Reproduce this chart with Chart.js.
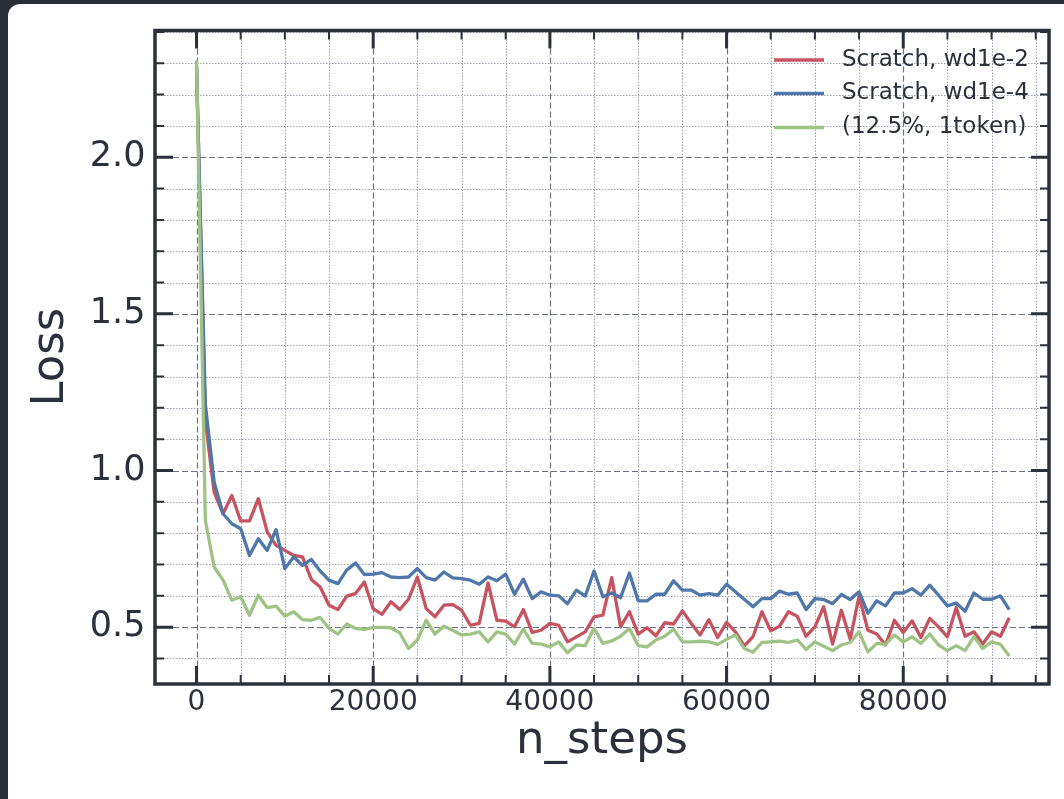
<!DOCTYPE html>
<html><head><meta charset="utf-8">
<script src="https://cdn.jsdelivr.net/npm/chart.js@4/dist/chart.umd.min.js"></script>
<style>
html,body{margin:0;padding:0;background:#282d38;width:1064px;height:799px;overflow:hidden}
#card{position:absolute;left:8px;top:4px;width:1056px;height:800px;background:#ffffff;border-top-left-radius:12px}
#c{position:absolute;left:0;top:0}
</style></head><body>
<div id="card"></div>
<canvas id="c" width="1064" height="799"></canvas>
<script>
const steps=[0,1000,2000,3000,4000,5000,6000,7000,8000,9000,10000,11000,12000,13000,14000,15000,16000,17000,18000,19000,20000,21000,22000,23000,24000,25000,26000,27000,28000,29000,30000,31000,32000,33000,34000,35000,36000,37000,38000,39000,40000,41000,42000,43000,44000,45000,46000,47000,48000,49000,50000,51000,52000,53000,54000,55000,56000,57000,58000,59000,60000,61000,62000,63000,64000,65000,66000,67000,68000,69000,70000,71000,72000,73000,74000,75000,76000,77000,78000,79000,80000,81000,82000,83000,84000,85000,86000,87000,88000,89000,90000,91000,92000];
const lossScratchWd1e2=[2.29,1.16,0.93,0.862,0.92,0.839,0.839,0.91,0.804,0.761,0.745,0.729,0.724,0.652,0.628,0.570,0.556,0.599,0.607,0.644,0.559,0.541,0.581,0.556,0.589,0.660,0.559,0.533,0.570,0.572,0.554,0.506,0.512,0.641,0.522,0.519,0.501,0.556,0.483,0.490,0.512,0.506,0.453,0.469,0.485,0.533,0.538,0.658,0.501,0.549,0.478,0.498,0.472,0.514,0.510,0.552,0.512,0.475,0.524,0.467,0.515,0.485,0.440,0.470,0.549,0.488,0.503,0.549,0.535,0.471,0.501,0.565,0.446,0.554,0.461,0.599,0.490,0.478,0.443,0.522,0.483,0.520,0.467,0.528,0.501,0.469,0.563,0.471,0.485,0.446,0.485,0.471,0.530];
const lossScratchWd1e4=[2.28,1.21,0.963,0.862,0.83,0.814,0.729,0.782,0.745,0.811,0.687,0.724,0.697,0.716,0.679,0.650,0.639,0.682,0.705,0.668,0.669,0.674,0.660,0.658,0.660,0.687,0.658,0.650,0.676,0.657,0.655,0.650,0.637,0.660,0.648,0.669,0.605,0.653,0.591,0.613,0.602,0.600,0.575,0.618,0.599,0.679,0.597,0.609,0.594,0.673,0.584,0.584,0.605,0.605,0.648,0.618,0.618,0.602,0.607,0.602,0.637,0.613,0.589,0.565,0.591,0.591,0.615,0.605,0.609,0.556,0.591,0.588,0.575,0.604,0.588,0.613,0.544,0.584,0.568,0.609,0.609,0.623,0.602,0.634,0.602,0.568,0.577,0.551,0.609,0.589,0.589,0.600,0.556];
const lossPartial1token=[2.31,0.84,0.692,0.65,0.586,0.597,0.538,0.602,0.562,0.567,0.535,0.549,0.524,0.522,0.531,0.496,0.478,0.510,0.496,0.493,0.499,0.499,0.498,0.482,0.432,0.459,0.522,0.478,0.503,0.490,0.475,0.478,0.485,0.453,0.485,0.478,0.446,0.494,0.448,0.446,0.437,0.453,0.418,0.443,0.441,0.496,0.448,0.456,0.471,0.496,0.441,0.437,0.459,0.471,0.493,0.453,0.453,0.455,0.453,0.445,0.461,0.475,0.432,0.420,0.451,0.453,0.455,0.451,0.459,0.429,0.453,0.439,0.425,0.443,0.451,0.485,0.421,0.448,0.445,0.475,0.453,0.469,0.448,0.478,0.443,0.425,0.441,0.425,0.469,0.432,0.453,0.445,0.408];
const seriesNames=['Scratch, wd1e-2','Scratch, wd1e-4','(12.5%, 1token)'];
const xTickValues=[0,20000,40000,60000,80000];
const xTickLabels=['0','20000','40000','60000','80000'];
const yTickValues=[0.5,1.0,1.5,2.0];
const yTickLabels=['0.5','1.0','1.5','2.0'];

const INK='#2b303b';
const colors=['#c65460','#4f77aa','#9fc385'];
const FONT='"DejaVu Sans", sans-serif';

function toPts(ys){return steps.map((s,i)=>({x:s,y:ys[i]}));}

const decor={
  id:'decor',
  beforeDatasetsDraw(chart){
    const {ctx,chartArea:a,scales:{x,y}}=chart;
    ctx.save();
    ctx.lineWidth=1; ctx.strokeStyle='#a0a4b0'; ctx.setLineDash([1.5,1.5]);
    for(let v=0;v<=x.max;v+=5000){ if(v%20000===0) continue; const px=Math.round(x.getPixelForValue(v))+0.5; ctx.beginPath(); ctx.moveTo(px,a.top); ctx.lineTo(px,a.bottom); ctx.stroke(); }
    for(let k=4;k/10<=y.max;k++){ if(k%5===0) continue; const py=Math.round(y.getPixelForValue(k/10))+0.5; ctx.beginPath(); ctx.moveTo(a.left,py); ctx.lineTo(a.right,py); ctx.stroke(); }
    ctx.lineWidth=1.2; ctx.strokeStyle='#6d7385'; ctx.setLineDash([6,3]);
    xTickValues.forEach(v=>{const px=Math.round(x.getPixelForValue(v))+0.5; ctx.beginPath(); ctx.moveTo(px,a.top); ctx.lineTo(px,a.bottom); ctx.stroke();});
    yTickValues.forEach(v=>{const py=Math.round(y.getPixelForValue(v))+0.5; ctx.beginPath(); ctx.moveTo(a.left,py); ctx.lineTo(a.right,py); ctx.stroke();});
    ctx.restore();
  },
  afterDatasetsDraw(chart){
    const {ctx,chartArea:a,scales:{x,y}}=chart;
    ctx.save();
    ctx.setLineDash([]); ctx.strokeStyle=INK;
    const MJ=18, MN=9;
    ctx.lineWidth=2;
    for(let v=0;v<=x.max;v+=5000){ if(v%20000===0) continue; const px=x.getPixelForValue(v);
      ctx.beginPath(); ctx.moveTo(px,a.bottom); ctx.lineTo(px,a.bottom-MN); ctx.moveTo(px,a.top); ctx.lineTo(px,a.top+MN); ctx.stroke(); }
    for(let k=4;k/10<=y.max;k++){ if(k%5===0) continue; const py=y.getPixelForValue(k/10);
      ctx.beginPath(); ctx.moveTo(a.left,py); ctx.lineTo(a.left+MN,py); ctx.moveTo(a.right,py); ctx.lineTo(a.right-MN,py); ctx.stroke(); }
    ctx.lineWidth=3;
    xTickValues.forEach(v=>{const px=x.getPixelForValue(v);
      ctx.beginPath(); ctx.moveTo(px,a.bottom); ctx.lineTo(px,a.bottom-MJ); ctx.moveTo(px,a.top); ctx.lineTo(px,a.top+MJ); ctx.stroke();});
    yTickValues.forEach(v=>{const py=y.getPixelForValue(v);
      ctx.beginPath(); ctx.moveTo(a.left,py); ctx.lineTo(a.left+MJ,py); ctx.moveTo(a.right,py); ctx.lineTo(a.right-MJ,py); ctx.stroke();});
    ctx.lineWidth=3.5;
    ctx.strokeRect(a.left,a.top,a.right-a.left,a.bottom-a.top);
    const rows=[60,93.5,127.5];
    ctx.font='23px '+FONT; ctx.textBaseline='middle'; ctx.textAlign='left';
    chart.data.datasets.forEach((ds,i)=>{
      ctx.strokeStyle=ds.borderColor; ctx.lineWidth=3.3; ctx.lineCap='butt';
      ctx.beginPath(); ctx.moveTo(774,rows[i]); ctx.lineTo(824,rows[i]); ctx.stroke();
      ctx.fillStyle=INK; ctx.fillText(ds.label,842,rows[i]);
    });
    ctx.restore();
  }
};

new Chart(document.getElementById('c'),{
  type:'line',
  data:{datasets:[
    {label:seriesNames[0],data:toPts(lossScratchWd1e2),borderColor:colors[0],order:3},
    {label:seriesNames[1],data:toPts(lossScratchWd1e4),borderColor:colors[1],order:2},
    {label:seriesNames[2],data:toPts(lossPartial1token),borderColor:colors[2],order:1}
  ]},
  options:{
    responsive:false,animation:false,devicePixelRatio:1,
    layout:{padding:{left:0,top:29,right:15,bottom:0}},
    elements:{point:{radius:0},line:{borderWidth:3.3,tension:0,borderJoinStyle:'round',fill:false}},
    plugins:{legend:{display:false},tooltip:{enabled:false}},
    scales:{
      x:{type:'linear',min:-4700,max:96500,
        grid:{display:false,drawTicks:false},border:{display:false},
        afterBuildTicks:s=>{s.ticks=xTickValues.map(v=>({value:v}));},
        afterFit:s=>{s.height=115;},
        ticks:{padding:1.5,color:INK,font:{family:FONT,size:28},maxRotation:0,autoSkip:false,callback:(v,i)=>xTickLabels[i]},
        title:{display:true,text:'n_steps',color:INK,font:{family:FONT,size:45},padding:{top:0,bottom:31}}
      },
      y:{type:'linear',min:0.3185,max:2.4045,
        grid:{display:false,drawTicks:false},border:{display:false},
        afterBuildTicks:s=>{s.ticks=yTickValues.map(v=>({value:v}));},
        afterFit:s=>{s.width=155;},
        ticks:{padding:9.5,color:INK,font:{family:FONT,size:35},autoSkip:false,callback:(v,i)=>yTickLabels[i]},
        title:{display:true,text:'Loss',color:INK,font:{family:FONT,size:45},padding:{top:24,bottom:0}}
      }
    }
  },
  plugins:[decor]
});
</script>
</body></html>
